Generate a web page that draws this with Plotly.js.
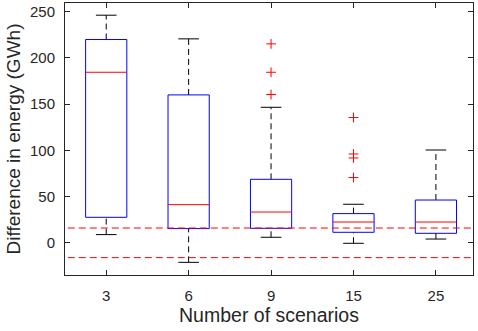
<!DOCTYPE html>
<html>
<head>
<meta charset="utf-8">
<script src="https://cdn.plot.ly/plotly-3.0.1.min.js"></script>
<style>html,body{margin:0;padding:0;background:#fff;}#chart{width:478px;height:331px;}</style>
</head>
<body>
<div id="chart"></div>
<script>
var categories = ['3', '6', '9', '15', '25'];
var lowerWhisker = [8.9, -21.1, 6.0, -0.5, 4.1];
var q1 = [27.6, 15.4, 15.7, 11.4, 10.3];
var medians = [184.5, 41.3, 33.3, 22.5, 22.5];
var q3 = [219.9, 160.0, 68.7, 31.6, 46.3];
var upperWhisker = [246.2, 220.6, 146.6, 41.7, 100.4];
var outlierGroup = ['9', '9', '9', '15', '15', '15', '15'];
var outlierValues = [215.2, 184.5, 160.4, 135.5, 96.1, 91.8, 70.6];
var referenceLevels = [16, -16];

var boxHalf = 0.25, capHalf = 0.125;
var pos = categories.map(function (c, i) { return i; });

function segs(fn) {
  var x = [], y = [];
  pos.forEach(function (p, i) {
    var s = fn(p, i);
    x = x.concat(s[0], [null]);
    y = y.concat(s[1], [null]);
  });
  return [x, y];
}

var whisk = segs(function (p, i) {
  return [[p, p, null, p, p], [q3[i], upperWhisker[i], null, lowerWhisker[i], q1[i]]];
});
var caps = segs(function (p, i) {
  return [[p - capHalf, p + capHalf, null, p - capHalf, p + capHalf],
          [upperWhisker[i], upperWhisker[i], null, lowerWhisker[i], lowerWhisker[i]]];
});
var boxes = segs(function (p, i) {
  return [[p - boxHalf, p + boxHalf, p + boxHalf, p - boxHalf, p - boxHalf],
          [q1[i], q1[i], q3[i], q3[i], q1[i]]];
});
var meds = segs(function (p, i) {
  return [[p - boxHalf, p + boxHalf], [medians[i], medians[i]]];
});
var refX = [], refY = [];
referenceLevels.forEach(function (v) { refX.push(-1, 6, null); refY.push(v, v, null); });

var traces = [
  {x: whisk[0], y: whisk[1], mode: 'lines', line: {color: '#000000', width: 1, dash: '6px,4px'}, showlegend: false},
  {x: caps[0], y: caps[1], mode: 'lines', line: {color: '#000000', width: 1}, showlegend: false},
  {x: boxes[0], y: boxes[1], mode: 'lines', line: {color: '#0000ff', width: 1}, showlegend: false},
  {x: meds[0], y: meds[1], mode: 'lines', line: {color: '#ff0000', width: 1}, showlegend: false},
  {x: refX, y: refY, mode: 'lines', line: {color: '#ff0000', width: 1, dash: '7px,4px'}, hoverinfo: 'skip', showlegend: false},
  {x: outlierGroup.map(function (g) { return categories.indexOf(g); }), y: outlierValues, mode: 'markers',
   marker: {symbol: 'cross-thin-open', size: 7, color: '#ff0000', line: {color: '#ff0000', width: 1}}, showlegend: false}
];

var fontFam = '"Liberation Sans", Arial, Helvetica, sans-serif';
var layout = {
  width: 478, height: 331,
  margin: {l: 65, r: 5, t: 3, b: 56},
  paper_bgcolor: '#ffffff', plot_bgcolor: '#ffffff',
  font: {family: fontFam, color: '#262626', size: 15},
  showlegend: false,
  xaxis: {
    range: [-0.5, 4.45], tickvals: pos, ticktext: categories,
    showline: true, mirror: 'allticks', linecolor: '#262626', linewidth: 1,
    ticks: 'inside', ticklen: 5, tickcolor: '#262626', showgrid: false, zeroline: false,
    tickfont: {size: 15, color: '#262626'}, ticklabelstandoff: 7,
    title: {text: 'Number of scenarios', font: {size: 19.5, color: '#262626'}, standoff: 5}
  },
  yaxis: {
    range: [-34.8, 259.4], tickvals: [0, 50, 100, 150, 200, 250],
    showline: true, mirror: 'allticks', linecolor: '#262626', linewidth: 1,
    ticks: 'inside', ticklen: 5, tickcolor: '#262626', showgrid: false, zeroline: false,
    tickfont: {size: 15, color: '#262626'}, ticklabelstandoff: 6,
    title: {text: 'Difference in energy (GWh)', font: {size: 19, color: '#262626'}, standoff: 4}
  }
};

Plotly.newPlot('chart', traces, layout, {staticPlot: true, displayModeBar: false});
</script>
</body>
</html>
